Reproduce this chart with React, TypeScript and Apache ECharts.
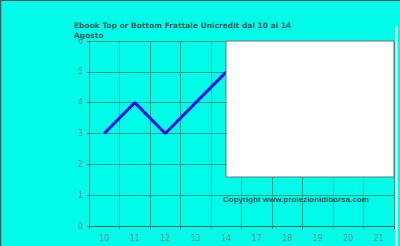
import React, { useEffect, useRef } from "react";
import * as echarts from "echarts";

const categories = ["10", "11", "12", "13", "14", "17", "18", "19", "20", "21"];
const values: (number | null)[] = [3, 4, 3, 4, 5, null, null, null, null, null];
const titleText = "Ebook Top or Bottom Frattale Unicredit dal 10 al 14\nAgosto";
const copyrightText = "Copyright www.proiezionidiborsa.com";

export default function App() {
  const ref = useRef<HTMLDivElement>(null);
  useEffect(() => {
    document.body.style.margin = "0";
    const chart = echarts.init(ref.current!, undefined, { renderer: "svg" });
    chart.setOption({
      animation: false,
      backgroundColor: "#00fbe9",
      title: {
        text: titleText,
        left: 74,
        top: 20,
        padding: 0,
        textStyle: {
          fontFamily: "DejaVu Sans",
          fontWeight: "bold",
          fontSize: 7.5,
          lineHeight: 10,
          color: "#2f5f5c",
        },
      },
      grid: { left: 89, right: 6, top: 41, bottom: 20 },
      xAxis: {
        type: "category",
        data: categories,
        boundaryGap: true,
        axisLine: { lineStyle: { color: "#2f6f66", width: 1 } },
        axisTick: { show: true, length: 3, lineStyle: { color: "#2f7f74" } },
        axisLabel: { color: "#6f8f8a", fontSize: 8, fontFamily: "DejaVu Sans", margin: 8 },
        splitLine: { show: true, lineStyle: { color: "#2f9f8c", width: 1 } },
      },
      yAxis: {
        type: "value",
        min: 0,
        max: 6,
        interval: 1,
        axisLine: { show: true, lineStyle: { color: "#2f6f66", width: 1 } },
        axisTick: { show: true, length: 2, lineStyle: { color: "#2f7f74" } },
        axisLabel: { color: "#6f8f8a", fontSize: 8, fontFamily: "DejaVu Sans", margin: 6 },
        splitLine: { show: true, lineStyle: { color: "#2f9f8c", width: 1 } },
      },
      series: [
        {
          type: "line",
          data: values,
          symbol: "none",
          lineStyle: { color: "#1010f0", width: 3 },
          z: 2,
        },
      ],
      graphic: [
        {
          type: "rect",
          z: 100,
          shape: { x: 226, y: 41, width: 168, height: 136 },
          style: { fill: "#ffffff", stroke: "#5f7a76", lineWidth: 1 },
        },
        {
          type: "text",
          z: 100,
          left: 223,
          top: 195,
          style: {
            text: copyrightText,
            fontFamily: "Liberation Sans",
            fontSize: 8,
            fontWeight: "bold",
            fill: "#2f5a57",
          },
        },
        {
          type: "line",
          z: 100,
          shape: { x1: 396.5, y1: 26, x2: 396.5, y2: 246 },
          style: { stroke: "#f0fffd", lineWidth: 2 },
        },
        {
          type: "line",
          z: 101,
          shape: { x1: 0.5, y1: 0, x2: 0.5, y2: 246 },
          style: { stroke: "#4a5a58", lineWidth: 1.5 },
        },
        {
          type: "line",
          z: 101,
          shape: { x1: 0, y1: 0.5, x2: 400, y2: 0.5 },
          style: { stroke: "#4a5a58", lineWidth: 1 },
        },
      ],
    });
    return () => chart.dispose();
  }, []);
  return <div ref={ref} style={{ width: 400, height: 246 }} />;
}
